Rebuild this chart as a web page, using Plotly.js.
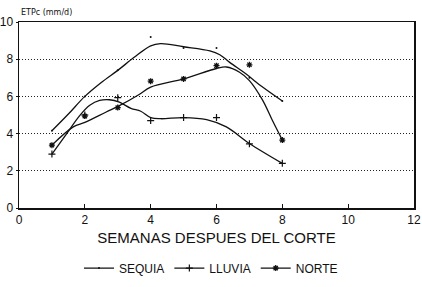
<!DOCTYPE html>
<html><head><meta charset="utf-8">
<script src="https://cdn.plot.ly/plotly-3.0.1.min.js"></script>
<style>html,body{margin:0;padding:0;background:#fff}#c{width:422px;height:287px}</style>
</head><body><div id="c"></div>
<script>
// Measured points (weeks after cut)
var weeks = [1, 2, 3, 4, 5, 6, 7, 8];
var sequia = [4.15, 6.0, 7.4, 9.2, 8.6, 8.6, 7.0, 5.75];
var lluvia = [2.9, 5.0, 5.93, 4.7, 4.86, 4.86, 3.45, 2.4];
var norte  = [3.38, 4.94, 5.4, 6.82, 6.94, 7.65, 7.7, 3.65];

// Fitted (smoothed) curves
var sequiaCurveX = [1, 1.5, 2, 2.5, 3, 3.5, 4, 4.3, 5, 5.8, 6.1, 6.4, 6.9, 7.4, 8];
var sequiaCurveY = [4.15, 5.05, 6.0, 6.75, 7.4, 8.1, 8.72, 8.84, 8.67, 8.45, 8.24, 7.83, 7.2, 6.5, 5.75];
var lluviaCurveX = [1, 1.45, 1.85, 2.15, 2.45, 2.75, 3.05, 3.4, 3.7, 4.0, 4.3, 5.0, 5.7, 6.3, 7.0, 8];
var lluviaCurveY = [2.9, 4.0, 4.98, 5.52, 5.78, 5.82, 5.69, 5.36, 5.2, 4.86, 4.8, 4.86, 4.75, 4.36, 3.47, 2.4];
var norteCurveX = [1, 1.65, 2, 2.65, 3.05, 3.65, 4.0, 5.0, 6.0, 6.3, 6.7, 7.0, 7.4, 7.7, 8];
var norteCurveY = [3.38, 4.36, 4.6, 5.16, 5.5, 6.1, 6.5, 6.94, 7.5, 7.58, 7.3, 6.85, 5.8, 4.7, 3.65];

var seriesNames = ['SEQUIA', 'LLUVIA', 'NORTE'];
var xTicks = [0, 2, 4, 6, 8, 10, 12];
var yTicks = [0, 2, 4, 6, 8, 10];

var blk = '#111';
var symbols = [
  {symbol: 'circle', size: 2, line: {width: 0}, color: blk},
  {symbol: 'cross-thin', size: 5, line: {width: 1.2, color: blk}, color: blk},
  {symbol: 'asterisk', size: 5, line: {width: 1.3, color: blk}, color: blk}
];
var pts = [sequia, lluvia, norte];
var cx = [sequiaCurveX, lluviaCurveX, norteCurveX];
var cy = [sequiaCurveY, lluviaCurveY, norteCurveY];

var data = [];
for (var i = 0; i < 3; i++) {
  data.push({x: cx[i], y: cy[i], mode: 'lines', line: {color: blk, width: 1.3, shape: 'spline', smoothing: 1}, showlegend: false, hoverinfo: 'skip'});
  data.push({x: weeks, y: pts[i], mode: 'markers', marker: symbols[i], showlegend: false});
}
for (var j = 0; j < 3; j++) {
  data.push({x: [null], y: [null], name: seriesNames[j], mode: 'lines+markers',
    line: {color: blk, width: 1.3}, marker: symbols[j]});
}

var layout = {
  width: 422, height: 287,
  margin: {l: 19, r: 8, t: 22, b: 79},
  paper_bgcolor: '#fff', plot_bgcolor: '#fff',
  font: {family: 'Liberation Sans, Arial, sans-serif', color: blk, size: 12},
  showlegend: true,
  legend: {orientation: 'h', x: 0.5, xanchor: 'center', xref: 'container', yref: 'container',
    y: 0.066, yanchor: 'middle', font: {size: 12}, itemwidth: 30, tracegroupgap: 0},
  xaxis: {range: [0, 12], tickvals: xTicks, ticks: 'inside', ticklen: 4, tickcolor: blk,
    showline: true, linecolor: blk, linewidth: 1.5, mirror: true, showgrid: false, zeroline: false,
    tickfont: {size: 12}, automargin: false,
    title: {text: 'SEMANAS DESPUES DEL CORTE', font: {size: 15}, standoff: 6}},
  yaxis: {range: [0, 10], tickvals: yTicks, ticks: 'outside', ticklen: 2, tickcolor: blk,
    showline: true, linecolor: blk, linewidth: 1.5, mirror: true, automargin: false,
    showgrid: true, gridcolor: '#222', griddash: '1px,2px', gridwidth: 1, zeroline: false,
    tickfont: {size: 12}},
  annotations: [{text: 'ETPc (mm/d)', xref: 'paper', yref: 'paper', x: 0, y: 1, xanchor: 'left', yanchor: 'bottom',
    yshift: 3, showarrow: false, font: {size: 8, family: 'DejaVu Sans, sans-serif'}}]
};
Plotly.newPlot('c', data, layout, {displayModeBar: false, staticPlot: true});
</script></body></html>
